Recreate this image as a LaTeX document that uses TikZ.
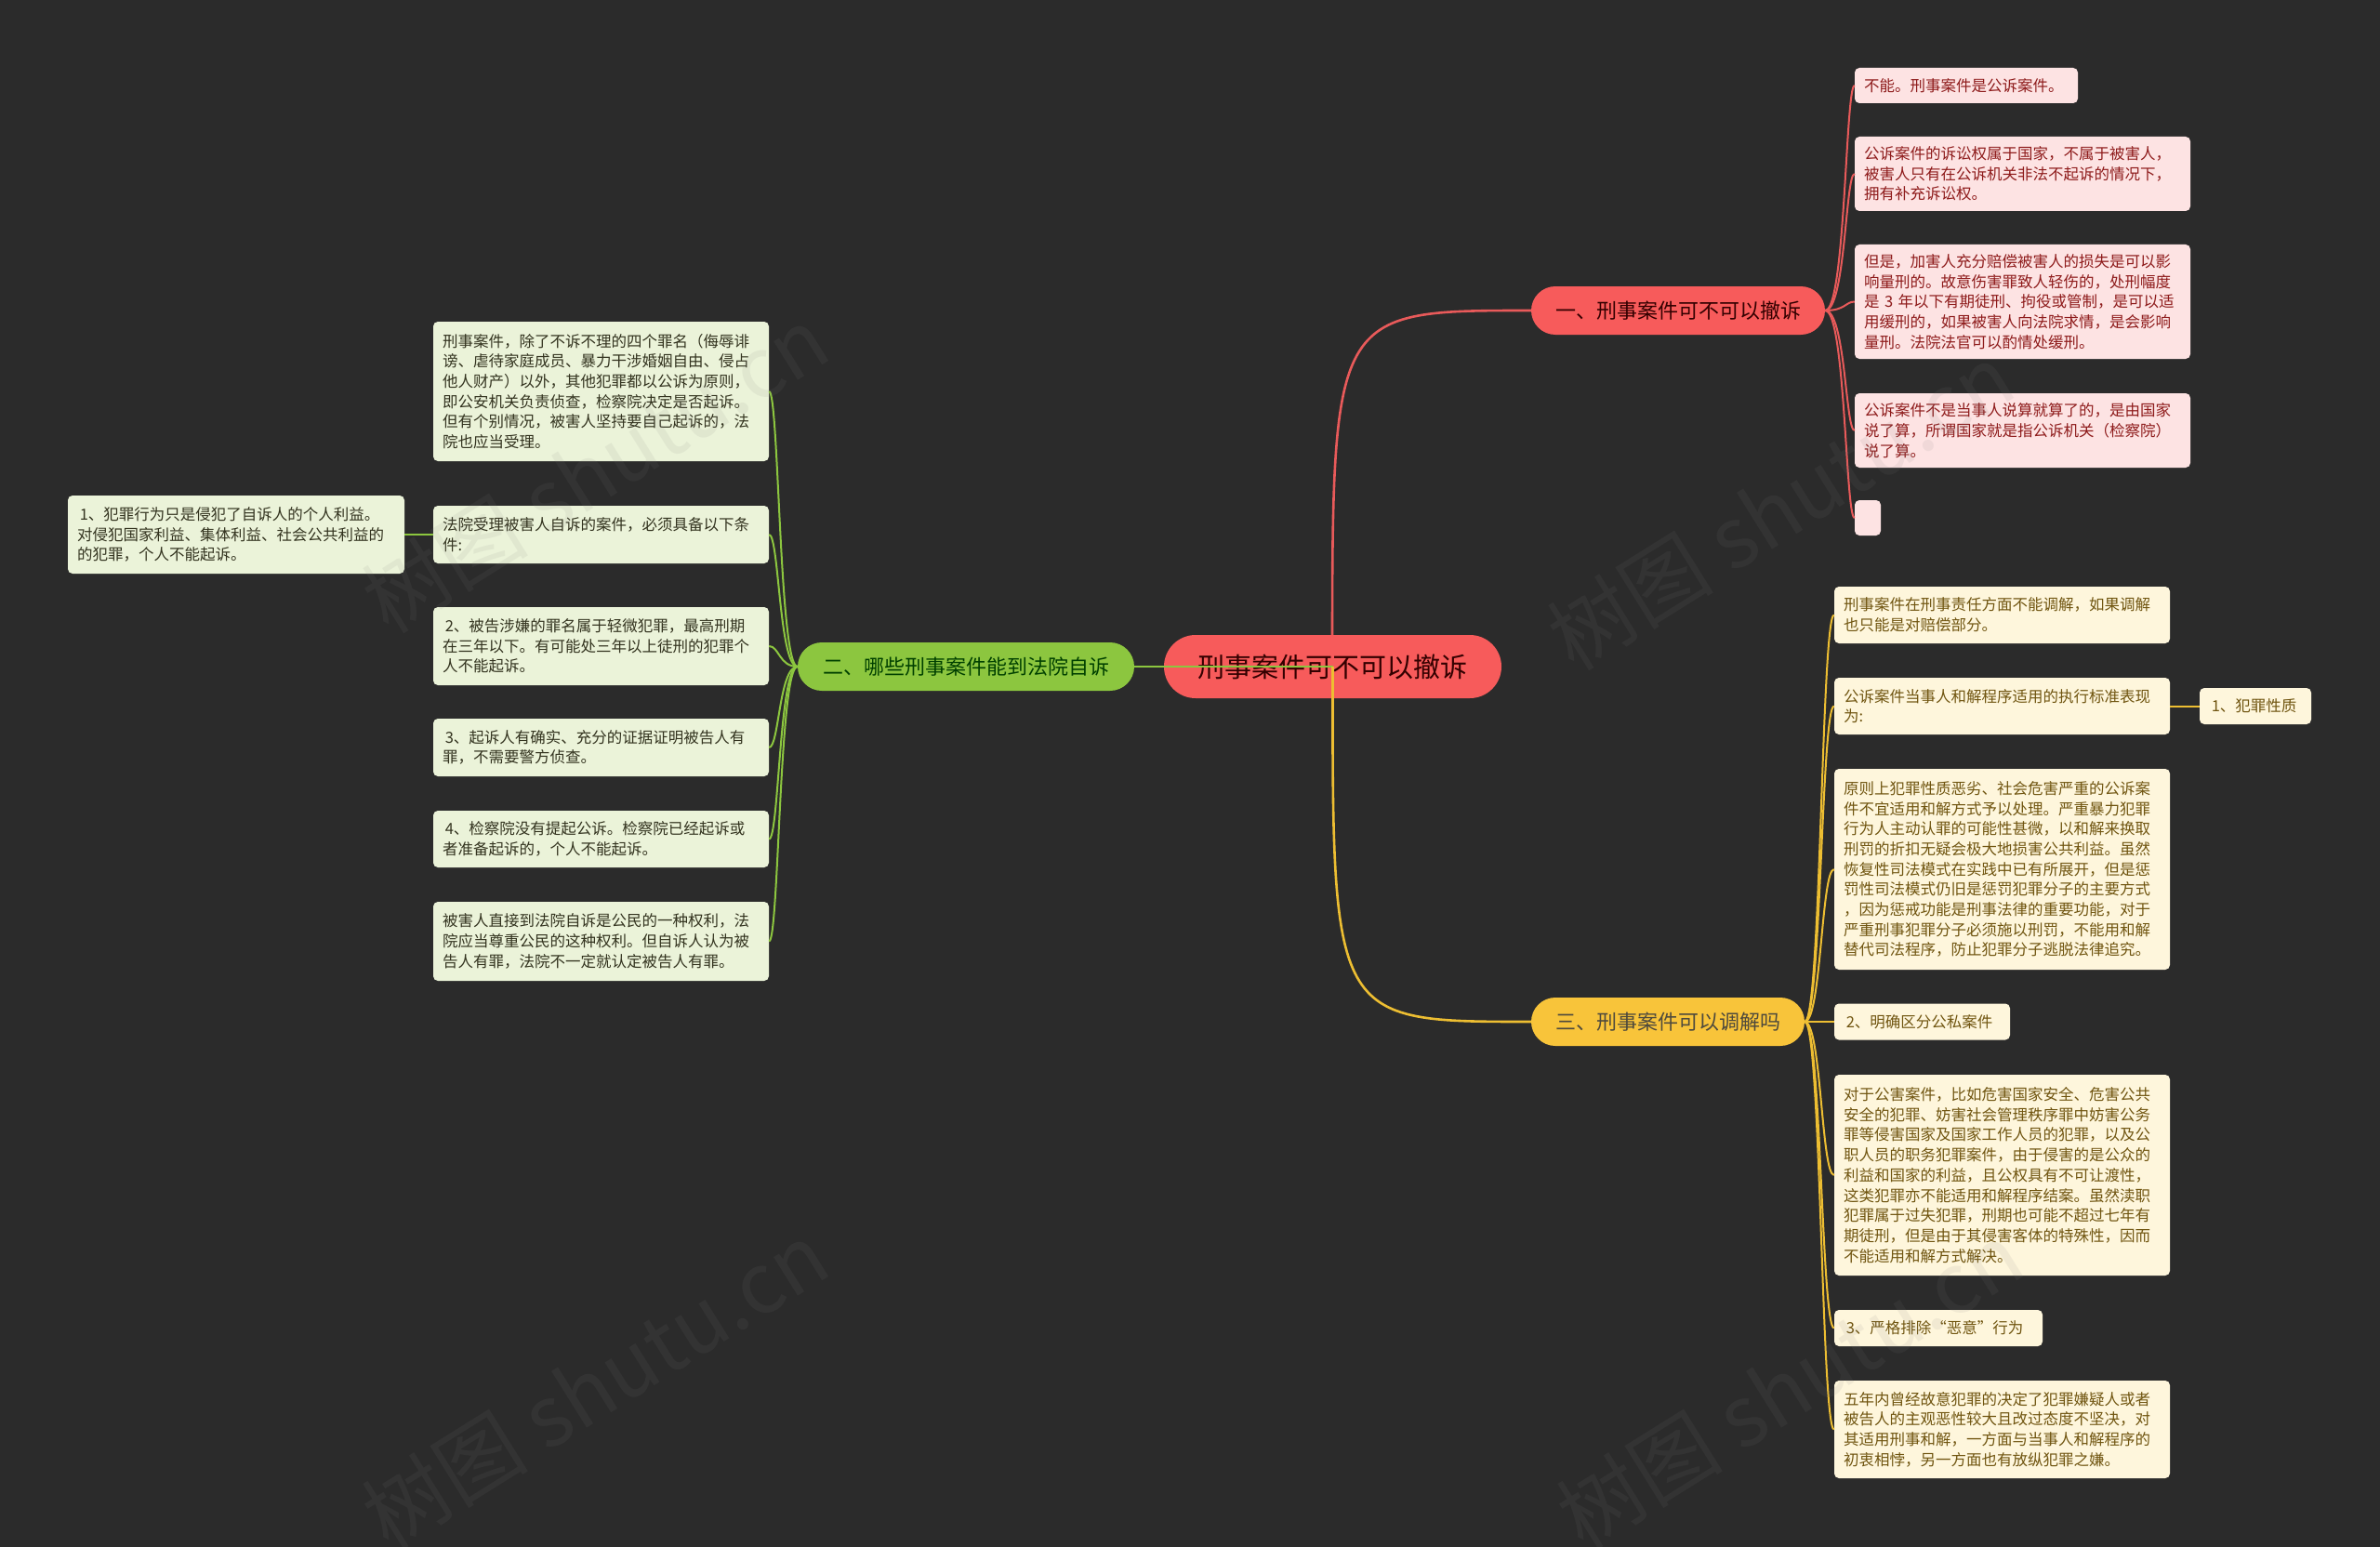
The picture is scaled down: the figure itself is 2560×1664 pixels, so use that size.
\documentclass[tikz,border=0pt]{standalone}
\usepackage{fontspec}
\setmainfont{Noto Sans CJK SC}
\definecolor{bg}{HTML}{2B2B2B}
\definecolor{redmain}{HTML}{F75B5B}
\definecolor{redline}{HTML}{E85A5A}
\definecolor{pinkfill}{HTML}{FDE3E3}
\definecolor{pinktext}{HTML}{8E1B1B}
\definecolor{greenmain}{HTML}{8CC63F}
\definecolor{greenline}{HTML}{8CC63F}
\definecolor{greenfill}{HTML}{EBF3D9}
\definecolor{greentext}{HTML}{33331F}
\definecolor{yellowmain}{HTML}{F8C43A}
\definecolor{yellowline}{HTML}{EDBE32}
\definecolor{yellowfill}{HTML}{FEF6DC}
\definecolor{yellowtext}{HTML}{705510}
\begin{document}
\begin{tikzpicture}[x=1pt,y=-1pt,
  leaf/.style={rounded corners=5pt, inner xsep=10pt, inner ysep=0pt, align=left,
    font=\fontsize{16.5}{21.7}\selectfont},
  pbox/.style={leaf, fill=pinkfill, text=pinktext},
  gbox/.style={leaf, fill=greenfill, text=greentext},
  ybox/.style={leaf, fill=yellowfill, text=yellowtext},
  branch/.style={rounded corners=26pt, minimum height=52pt, inner sep=0pt,
    font=\fontsize{22}{26}\selectfont},
  rootnode/.style={rounded corners=34pt, minimum height=68pt, minimum width=363pt, inner sep=0pt,
    fill=redmain, text=black!80!red, font=\fontsize{29}{34}\selectfont},
  mainred/.style={draw=redline, line width=2.6pt},
  maingreen/.style={draw=greenline, line width=2.6pt},
  mainyellow/.style={draw=yellowline, line width=2.6pt},
  subred/.style={draw=redline, line width=2pt},
  subgreen/.style={draw=greenline, line width=2pt},
  subyellow/.style={draw=yellowline, line width=2pt},
  wmark/.style={text=gray, opacity=0.1, rotate=32, font=\fontsize{90}{90}\selectfont}
]
\fill[bg] (0,0) rectangle (2560,1664);
\useasboundingbox (0,0) rectangle (2560,1664);

% branches
\node[branch, minimum width=316pt, fill=redmain, text=black!80!red] (b1) at (1805,334) {一、刑事案件可不可以撤诉};
\node[branch, minimum width=362pt, fill=greenmain, text=black!75!green] (b2) at (1039,717) {二、哪些刑事案件能到法院自诉};
\node[branch, minimum width=294pt, fill=yellowmain, text=black!80!yellow] (b3) at (1794,1099) {三、刑事案件可以调解吗};

\coordinate (rc) at (1433,717);
\draw[mainred] (rc) .. controls (1433,334) .. (b1.west);
\node[rootnode] (root) at (1433.5,717) {刑事案件可不可以撤诉};
\draw[maingreen] (root.center) -- (b2.east);
\draw[mainyellow] (root.center) .. controls (1433,1099) .. (b3.west);

% pink boxes
\node[pbox, text width=220pt, minimum height=38pt] (p1) at (2115,92) {不能。刑事案件是公诉案件。};
\node[pbox, text width=341pt, minimum height=80pt] (p2) at (2175.5,187) {公诉案件的诉讼权属于国家，不属于被害人，\\被害人只有在公诉机关非法不起诉的情况下，\\拥有补充诉讼权。};
\node[pbox, text width=341pt, minimum height=123pt] (p3) at (2175.5,324.5) {但是，加害人充分赔偿被害人的损失是可以影\\响量刑的。故意伤害罪致人轻伤的，处刑幅度\\是 3 年以下有期徒刑、拘役或管制，是可以适\\用缓刑的，如果被害人向法院求情，是会影响\\量刑。法院法官可以酌情处缓刑。};
\node[pbox, text width=341pt, minimum height=80pt] (p4) at (2175.5,463) {公诉案件不是当事人说算就算了的，是由国家\\说了算，所谓国家就是指公诉机关（检察院）\\说了算。};
\node[pbox, text width=8pt, minimum height=38pt] (p5) at (2009,557) {};
\foreach \n in {p1,p2,p3,p4,p5}
  \draw[subred] (b1.east) .. controls (1985,334) and (1985,0 |- \n.west) .. (\n.west);

% green boxes
\node[gbox, text width=341pt, minimum height=150pt] (g1) at (646.5,421) {刑事案件，除了不诉不理的四个罪名（侮辱诽\\谤、虐待家庭成员、暴力干涉婚姻自由、侵占\\他人财产）以外，其他犯罪都以公诉为原则，\\即公安机关负责侦查，检察院决定是否起诉。\\但有个别情况，被害人坚持要自己起诉的，法\\院也应当受理。};
\node[gbox, text width=341pt, minimum height=62pt] (g2) at (646.5,575) {法院受理被害人自诉的案件，必须具备以下条\\件:};
\node[gbox, text width=342pt, minimum height=84pt] (g2a) at (254,575) {\,1、犯罪行为只是侵犯了自诉人的个人利益。\\对侵犯国家利益、集体利益、社会公共利益的\\的犯罪，个人不能起诉。};
\node[gbox, text width=341pt, minimum height=84pt] (g3) at (646.5,695) {\,2、被告涉嫌的罪名属于轻微犯罪，最高刑期\\在三年以下。有可能处三年以上徒刑的犯罪个\\人不能起诉。};
\node[gbox, text width=341pt, minimum height=62pt] (g4) at (646.5,804) {\,3、起诉人有确实、充分的证据证明被告人有\\罪，不需要警方侦查。};
\node[gbox, text width=341pt, minimum height=61pt] (g5) at (646.5,902.5) {\,4、检察院没有提起公诉。检察院已经起诉或\\者准备起诉的，个人不能起诉。};
\node[gbox, text width=341pt, minimum height=85pt] (g6) at (646.5,1012.5) {被害人直接到法院自诉是公民的一种权利，法\\院应当尊重公民的这种权利。但自诉人认为被\\告人有罪，法院不一定就认定被告人有罪。};
\foreach \n in {g1,g2,g3,g4,g5,g6}
  \draw[subgreen] (b2.west) .. controls (838,717) and (838,0 |- \n.east) .. (\n.east);
\draw[subgreen] (g2.west) -- (g2a.east);

% yellow boxes
\node[ybox, text width=341pt, minimum height=61pt] (y1) at (2153.5,661.5) {刑事案件在刑事责任方面不能调解，如果调解\\也只能是对赔偿部分。};
\node[ybox, text width=341pt, minimum height=61pt] (y2) at (2153.5,759.5) {公诉案件当事人和解程序适用的执行标准表现\\为:};
\node[ybox, text width=100pt, minimum height=39pt] (y2a) at (2426,759.5) {\,1、犯罪性质};
\node[ybox, text width=341pt, minimum height=216pt] (y3) at (2153.5,935) {原则上犯罪性质恶劣、社会危害严重的公诉案\\件不宜适用和解方式予以处理。严重暴力犯罪\\行为人主动认罪的可能性甚微，以和解来换取\\刑罚的折扣无疑会极大地损害公共利益。虽然\\恢复性司法模式在实践中已有所展开，但是惩\\罚性司法模式仍旧是惩罚犯罪分子的主要方式\\，因为惩戒功能是刑事法律的重要功能，对于\\严重刑事犯罪分子必须施以刑罚，不能用和解\\替代司法程序，防止犯罪分子逃脱法律追究。};
\node[ybox, text width=169pt, minimum height=39pt] (y4) at (2067.5,1099) {\,2、明确区分公私案件};
\node[ybox, text width=341pt, minimum height=216pt] (y5) at (2153.5,1264) {对于公害案件，比如危害国家安全、危害公共\\安全的犯罪、妨害社会管理秩序罪中妨害公务\\罪等侵害国家及国家工作人员的犯罪，以及公\\职人员的职务犯罪案件，由于侵害的是公众的\\利益和国家的利益，且公权具有不可让渡性，\\这类犯罪亦不能适用和解程序结案。虽然渎职\\犯罪属于过失犯罪，刑期也可能不超过七年有\\期徒刑，但是由于其侵害客体的特殊性，因而\\不能适用和解方式解决。};
\node[ybox, text width=204pt, minimum height=39pt] (y6) at (2085,1428.5) {\,3、严格排除“恶意”行为};
\node[ybox, text width=341pt, minimum height=105pt] (y7) at (2153.5,1537.5) {五年内曾经故意犯罪的决定了犯罪嫌疑人或者\\被告人的主观恶性较大且改过态度不坚决，对\\其适用刑事和解，一方面与当事人和解程序的\\初衷相悖，另一方面也有放纵犯罪之嫌。};
\foreach \n in {y1,y2,y3,y5,y6,y7}
  \draw[subyellow] (b3.east) .. controls (1959,1099) and (1959,0 |- \n.west) .. (\n.west);
\draw[subyellow] (b3.east) -- (y4.west);
\draw[subyellow] (y2.east) -- (y2a.west);

% watermarks
\node[wmark] (w1) at (640,505) {树图 shutu.cn};
\node[wmark] (w2) at (1915,545) {树图 shutu.cn};
\node[wmark] (w3) at (640,1490) {树图 shutu.cn};
\node[wmark] (w4) at (1925,1490) {树图 shutu.cn};
\end{tikzpicture}
\end{document}
